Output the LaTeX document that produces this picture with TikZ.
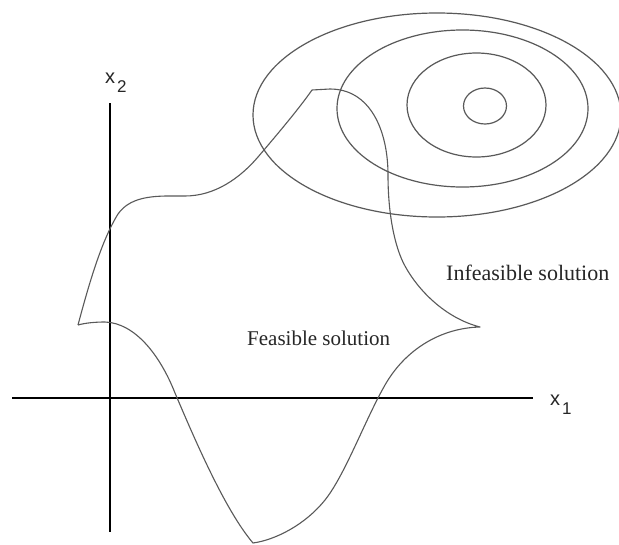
\documentclass[tikz,border=0pt]{standalone}
\usepackage{fontspec}
\setmainfont{Liberation Serif}
\newfontfamily\axisfont{Liberation Sans}
\begin{document}
\begin{tikzpicture}[x=1pt,y=-1pt,
  contour/.style={draw=black!65, line width=1.2pt},
  region/.style={draw=black!65, line width=1.1pt, line join=round},
  axisline/.style={draw=black, line width=2.8pt},
  axislabel/.style={anchor=base west, inner sep=0pt, font=\axisfont\fontsize{20}{20}\selectfont, text=black!85},
  regionlabel/.style={anchor=base west, inner sep=0pt, text=black!85}]
\useasboundingbox (0,0) rectangle (619,544);
\fill[white] (0,0) rectangle (619,544);

% contour ellipses of the objective
\draw[contour] (437,115) ellipse [x radius=184pt, y radius=102pt];
\draw[contour] (462.5,108.5) ellipse [x radius=125.5pt, y radius=78.5pt];
\draw[contour] (476.5,105) ellipse [x radius=69.5pt, y radius=52pt];
\draw[contour] (485,106) ellipse [x radius=21.5pt, y radius=18pt];

% axes
\coordinate (xl) at (12,398);
\coordinate (xr) at (533,398);
\coordinate (yt) at (110,103);
\coordinate (yb) at (110,532);
\draw[axisline] (xl) -- (xr);
\draw[axisline] (yt) -- (yb);

% feasible region boundary
\coordinate (cuspL) at (78,325);
\coordinate (peak) at (312,90);
\coordinate (cuspR) at (480,327);
\coordinate (bottom) at (253,543);
\draw[region]
  (cuspL) .. controls (90,280) and (102,240) .. (118,214)
          .. controls (132,194) and (160,196) .. (185,196)
          .. controls (215,196) and (240,178) .. (258,157)
          .. controls (275,137) and (298,110) .. (peak)
  -- (330,89)
          .. controls (370,89) and (388,130) .. (388,175)
          .. controls (388,215) and (395,248) .. (405,266)
          .. controls (418,290) and (445,318) .. (cuspR)
          .. controls (440,328) and (405,350) .. (385,385)
          .. controls (365,420) and (345,475) .. (325,500)
          .. controls (305,525) and (275,540) .. (bottom)
          .. controls (225,510) and (195,440) .. (175,393)
          .. controls (160,355) and (135,323) .. (105,322)
          .. controls (95,322) and (85,323) .. (cuspL);

% labels
\node[axislabel] (lx2) at (105,83) {x\hspace{2pt}\raisebox{-9pt}{\fontsize{17}{17}\selectfont 2}};
\node[axislabel] (lx1) at (550,405) {x\hspace{2pt}\raisebox{-9pt}{\fontsize{17}{17}\selectfont 1}};
\node[regionlabel, font=\fontsize{21}{21}\selectfont] (feas) at (247,345) {Feasible solution};
\node[regionlabel, font=\fontsize{22}{22}\selectfont] (infeas) at (446,280) {Infeasible solution};
\end{tikzpicture}
\end{document}
